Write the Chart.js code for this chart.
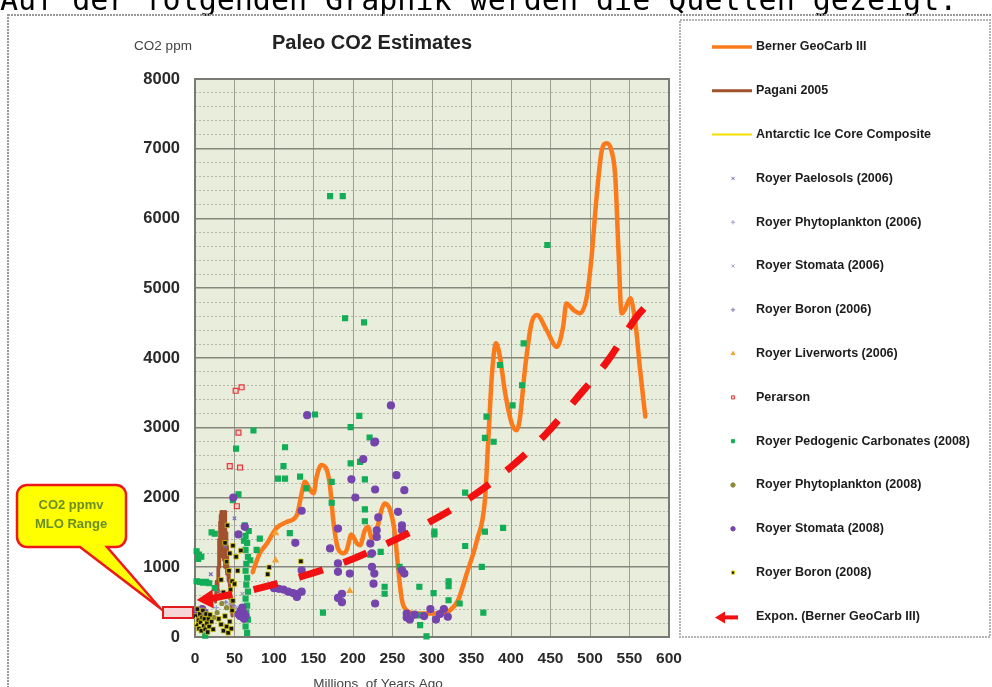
<!DOCTYPE html>
<html>
<head>
<meta charset="utf-8">
<script src="https://cdn.jsdelivr.net/npm/chart.js@4.4.1/dist/chart.umd.min.js"></script>
<style>
  html, body { margin: 0; padding: 0; background: #fff; overflow: hidden; }
</style>
</head>
<body>
<canvas id="paleoChart" width="992" height="687"></canvas>
<script>
// x = millions of years ago, y = CO2 ppm
const xTicks = [0, 50, 100, 150, 200, 250, 300, 350, 400, 450, 500, 550, 600];
const yTicks = [0, 1000, 2000, 3000, 4000, 5000, 6000, 7000, 8000];

const bernerGeoCarb = [[73,930],[82,1200],[91,1340],[103,1560],[116,1650],[129,1750],[135,2060],[139,2225],[146,2105],[150,2060],[154,2300],[160,2465],[167,2390],[171,2150],[175,1675],[181,1270],[188,1200],[192,1245],[198,1470],[205,1340],[209,1315],[215,1530],[219,1580],[224,1410],[230,1530],[236,1820],[240,1915],[247,1820],[253,1485],[257,1005],[262,527],[268,383],[281,336],[293,336],[310,336],[323,383],[333,527],[344,910],[357,1390],[367,1960],[371,2775],[376,3780],[381,4210],[386,4020],[392,3540],[401,3060],[407,2965],[411,3110],[418,3875],[426,4500],[433,4615],[445,4400],[458,4160],[466,4450],[470,4780],[479,4690],[487,4640],[496,4880],[502,5450],[508,6265],[515,6980],[521,7080],[527,6980],[532,6600],[536,5550],[540,4640],[544,4690],[551,4855],[555,4690],[559,4350],[563,3875],[570,3160]];

const pagani2005 = [[26,500],[27,800],[28,650],[29,1000],[29.5,800],[30,1400],[30.5,1000],[31,1650],[31.5,1100],[32,1750],[32.5,1200],[33,1800],[33.5,1150],[34,1750],[34.5,1300],[35,1800],[35.5,1200],[36,1700],[36.5,1100],[37,1650],[37.5,1000],[38,1800],[38.5,1200],[39,1600],[39.5,1000],[40,1500],[40.5,900],[41,1300],[42,800],[43,950],[44,600],[45,700],[46,400],[47,300]];

const antarcticIceCore = [[0,280],[0.2,190],[0.4,280],[0.6,200],[0.8,260]];

const paleosols2006 = [[20,900],[38,1300],[50,1700]];
const phytoplankton2006 = [[27,420],[33,560],[44,470]];
const stomata2006 = [[12,320],[52,420],[60,620]];
const boron2006 = [[31,650],[39,500],[49,450]];
const liverworts2006 = [[102,1490],[102,1100],[196,660]];

const perarson = [[51.5,3530],[59,3580],[55,2930],[44,2450],[57,2430],[53,1875]];

const pedogenic2008 = [[171,6320],[187,6320],[190,4570],[214,4510],[446,5620],[416,4210],[414,3610],[402,3320],[386,3900],[369,3160],[367,2855],[378,2800],[342,2070],[367,1510],[390,1565],[342,1305],[363,1005],[365,350],[303,1510],[303,1470],[321,800],[321,730],[302,630],[321,527],[335,480],[284,720],[284,310],[285,170],[293,10],[259,1005],[240,720],[240,620],[235,1220],[222,1180],[215,1830],[215,1660],[215,2260],[197,2490],[209,2510],[208,3170],[197,3010],[221,2860],[152,3190],[173,2225],[173,1925],[162,350],[74,2960],[114,2720],[112,2450],[105,2270],[114,2270],[133,2300],[141,2130],[120,1490],[52,2700],[55,2045],[48,1960],[25,1480],[21,1500],[2,1230],[5,1180],[8,1150],[4,1120],[2,800],[6,790],[10,780],[14,790],[18,770],[25,700],[13,20],[82,1410],[78,1250],[64,1450],[66,1350],[64,1250],[67,1150],[65,1050],[64,950],[66,850],[65,750],[67,650],[64,550],[66,450],[65,350],[67,250],[64,150],[66,60],[62,1380],[70,1100],[68,1520],[63,1600]];

const phytoplankton2008 = [[28,350],[34,480],[40,420],[24,280],[45,560]];

const stomata2008 = [[142,3180],[248,3320],[227,2790],[181,1555],[181,1055],[181,935],[186,620],[186,500],[181,560],[196,910],[198,2260],[203,2000],[213,2550],[228,2800],[228,2115],[224,1200],[224,1005],[226,765],[228,480],[232,1715],[230,1530],[230,1435],[222,1340],[255,2320],[265,2105],[257,1795],[262,1600],[262,1530],[262,957],[265,910],[227,910],[268,336],[268,280],[290,300],[298,400],[305,250],[310,330],[315,400],[320,290],[278,320],[272,250],[135,1810],[127,1350],[135,957],[100,700],[106,690],[112,680],[118,650],[124,630],[130,620],[129,575],[135,650],[171,1270],[48.5,2000],[63,1580],[55,1470],[55,330],[58,380],[61,350],[64,300],[57,300],[60,420],[62,260],[3,380],[6,330],[9,400],[12,350],[15,300],[5,280],[10,300]];

const boron2008 = [[1,300],[2,180],[3,400],[4,240],[5,120],[6,330],[7,210],[8,90],[9,280],[10,380],[11,160],[12,260],[13,110],[14,330],[15,200],[16,70],[17,260],[18,150],[19,320],[21,220],[23,110],[30,260],[33,180],[36,90],[38,300],[40,150],[42,60],[44,220],[46,120],[47,380],[48,520],[45,680],[47,800],[43,950],[40,1080],[44,1200],[48,1310],[52,1150],[54,950],[50,760],[36,640],[33,820],[38,1350],[41,1600],[58,1240],[92,900],[94,1000],[134,1085]];

const exponTrend = [[16,540],[74,680],[133,860],[190,1075],[244,1345],[297,1650],[350,2010],[400,2440],[445,2920],[483,3420],[523,3970],[559,4591],[572,4760]];

const toXY = arr => arr.map(p => ({ x: p[0], y: p[1] }));

const lineSet = (label, data, color, width, order) => ({
    label, data: toXY(data), showLine: true, borderColor: color, backgroundColor: color,
    borderWidth: width, pointRadius: 0, borderJoinStyle: 'round', borderCapStyle: 'round',
    legendMarker: 'line', order
});

const pointSet = (label, data, style, fill, stroke, radius, order) => ({
    label, data: toXY(data), showLine: false, pointStyle: style,
    backgroundColor: fill, borderColor: stroke, pointRadius: radius, pointBorderWidth: 1.2,
    legendMarker: 'point', clip: 8, order
});

const datasets = [
    Object.assign(lineSet('Berner GeoCarb III', bernerGeoCarb, '#fb7a1c', 4.5, 20), { cubicInterpolationMode: 'monotone' }),
    lineSet('Pagani 2005', pagani2005, '#a0522d', 3, 12),
    lineSet('Antarctic Ice Core Composite', antarcticIceCore, '#f2e000', 2, 3),
    pointSet('Royer Paelosols (2006)', paleosols2006, 'crossRot', '#6c6cc0', '#6c6cc0', 2.5, 9),
    pointSet('Royer Phytoplankton (2006)', phytoplankton2006, 'cross', '#9aa0c8', '#9aa0c8', 2.5, 9),
    pointSet('Royer Stomata (2006)', stomata2006, 'crossRot', '#a4a4c4', '#a4a4c4', 2.5, 9),
    pointSet('Royer Boron (2006)', boron2006, 'cross', '#7a7ab8', '#7a7ab8', 2.5, 9),
    pointSet('Royer Liverworts (2006)', liverworts2006, 'triangle', '#f5a030', '#f5a030', 3, 5),
    pointSet('Perarson', perarson, 'rect', 'rgba(248,200,200,0.7)', '#e23a3a', 3.5, 5),
    pointSet('Royer Pedogenic Carbonates (2008)', pedogenic2008, 'rect', '#12ad57', '#12ad57', 3.5, 8),
    pointSet('Royer Phytoplankton (2008)', phytoplankton2008, 'circle', '#8a8a3a', '#8a8a3a', 2, 6),
    pointSet('Royer Stomata (2008)', stomata2008, 'circle', '#7544ad', '#7544ad', 3.5, 7),
    Object.assign(pointSet('Royer Boron (2008)', boron2008, 'rect', '#141414', '#d8cc10', 3.2, 4), { pointBorderWidth: 0.8 }),
    {
        label: 'Expon. (Berner GeoCarb III)', data: toXY(exponTrend), showLine: true,
        borderColor: '#f21010', backgroundColor: '#f21010', borderWidth: 7, borderDash: [25, 22],
        borderCapStyle: 'butt', cubicInterpolationMode: 'monotone',
        pointStyle: 'triangle', pointRadius: c => c.dataIndex === 0 ? 11 : 0,
        pointRotation: -94, pointBorderWidth: 0, pointBackgroundColor: '#f21010',
        legendMarker: 'arrow', clip: false, order: 0
    }
];

const FONT = '"Liberation Sans", Arial, sans-serif';

// page text, frames, callout and the boxed legend
const framePlugin = {
    id: 'frame',
    beforeDraw(chart) {
        const { ctx, chartArea: a } = chart;
        ctx.save();
        ctx.fillStyle = '#fff';
        ctx.fillRect(0, 0, chart.width, chart.height);
        ctx.fillStyle = '#000';
        ctx.font = '30px "DejaVu Sans Mono", monospace';
        ctx.textBaseline = 'alphabetic';
        ctx.fillText('Auf der folgenden Graphik werden die Quellen gezeigt:', 0, 10);
        // outer dotted frame
        ctx.strokeStyle = '#9a9a9a';
        ctx.lineWidth = 2;
        ctx.setLineDash([2, 1]);
        ctx.strokeRect(8, 15, 1000, 700);
        // legend frame
        ctx.strokeStyle = '#b4b4b4';
        ctx.strokeRect(680, 20, 310, 617);
        ctx.setLineDash([]);
        // plot background
        ctx.fillStyle = '#e9eddb';
        ctx.fillRect(a.left, a.top, a.right - a.left, a.bottom - a.top);
        ctx.restore();
    },
    beforeDatasetsDraw(chart) {
        const { ctx, chartArea: a } = chart;
        ctx.save();
        ctx.strokeStyle = '#7a7a74';
        ctx.lineWidth = 2;
        ctx.strokeRect(a.left, a.top, a.right - a.left, a.bottom - a.top);
        ctx.restore();
    },
    afterDraw(chart) {
        const { ctx } = chart;
        ctx.save();
        ctx.textBaseline = 'middle';
        ctx.fillStyle = '#222';
        ctx.font = 'bold 20px ' + FONT;
        ctx.textAlign = 'center';
        ctx.fillText('Paleo CO2 Estimates', 372, 43);
        ctx.font = '13.5px ' + FONT;
        ctx.fillStyle = '#444';
        ctx.fillText('CO2 ppm', 163, 46);
        ctx.fillText('Millions  of Years Ago', 378, 684);

        // callout
        ctx.beginPath();
        ctx.moveTo(27, 485);
        ctx.lineTo(116, 485);
        ctx.arcTo(126, 485, 126, 495, 10);
        ctx.lineTo(126, 537);
        ctx.arcTo(126, 547, 116, 547, 10);
        ctx.lineTo(107, 547);
        ctx.lineTo(160, 608);
        ctx.lineTo(80, 547);
        ctx.lineTo(27, 547);
        ctx.arcTo(17, 547, 17, 537, 10);
        ctx.lineTo(17, 495);
        ctx.arcTo(17, 485, 27, 485, 10);
        ctx.closePath();
        ctx.fillStyle = '#ffff00';
        ctx.fill();
        ctx.strokeStyle = '#ee1a1a';
        ctx.lineWidth = 2.5;
        ctx.stroke();
        ctx.fillStyle = '#6b8e23';
        ctx.font = 'bold 13px ' + FONT;
        ctx.fillText('CO2 ppmv', 71, 505);
        ctx.fillText('MLO Range', 71, 524);
        // MLO range box
        ctx.fillStyle = '#f6d6d6';
        ctx.fillRect(163, 607, 30, 11);
        ctx.strokeStyle = '#e21c1c';
        ctx.lineWidth = 2;
        ctx.strokeRect(163, 607, 30, 11);

        // legend
        ctx.textAlign = 'left';
        chart.data.datasets.forEach((ds, i) => {
            const y = 47 + i * 43.8;
            if (ds.legendMarker === 'line') {
                ctx.strokeStyle = ds.borderColor;
                ctx.lineWidth = Math.min(ds.borderWidth, 3.5);
                ctx.beginPath();
                ctx.moveTo(712, y);
                ctx.lineTo(752, y);
                ctx.stroke();
            } else if (ds.legendMarker === 'arrow') {
                ctx.fillStyle = ds.borderColor;
                ctx.beginPath();
                ctx.moveTo(715, y + 1);
                ctx.lineTo(725, y - 5);
                ctx.lineTo(725, y + 7);
                ctx.closePath();
                ctx.fill();
                ctx.fillRect(724, y - 1, 14, 4);
            } else {
                ctx.fillStyle = ds.backgroundColor;
                ctx.strokeStyle = ds.borderColor;
                ctx.lineWidth = 1;
                Chart.helpers.drawPoint(ctx, { pointStyle: ds.pointStyle, radius: 2.2, rotation: 0, borderWidth: 1 }, 733, y);
            }
            ctx.fillStyle = '#1c1c1c';
            ctx.font = 'bold 12.5px ' + FONT;
            ctx.fillText(ds.label, 756, y);
        });
        ctx.restore();
    }
};

new Chart(document.getElementById('paleoChart'), {
    type: 'scatter',
    data: { datasets },
    plugins: [framePlugin],
    options: {
        responsive: false,
        animation: false,
        devicePixelRatio: 1,
        layout: { padding: { left: 0, right: 323, top: 79, bottom: 0 } },
        plugins: { legend: { display: false }, title: { display: false }, tooltip: { enabled: false } },
        scales: {
            x: {
                type: 'linear', min: 0, max: 600,
                afterBuildTicks: s => { s.ticks = xTicks.map(v => ({ value: v })); },
                afterFit: s => { s.height = 50; },
                ticks: { padding: 12, color: '#2a2a2a', font: { family: FONT, size: 15.5, weight: 'bold' }, maxRotation: 0, autoSkip: false, callback: v => String(v) },
                grid: { color: '#9c9e92', lineWidth: 1, drawTicks: false },
                border: { color: '#7a7a74', width: 2 }
            },
            y: {
                type: 'linear', min: 0, max: 8000, position: 'left',
                afterBuildTicks: s => { s.ticks = yTicks.map(v => ({ value: v })); },
                afterFit: s => { s.width = 195; },
                ticks: { padding: 15, color: '#2a2a2a', font: { family: FONT, size: 16.5, weight: 'bold' }, callback: v => String(v) },
                grid: { color: '#85877d', lineWidth: 1.6, drawTicks: false },
                border: { color: '#7a7a74', width: 2 }
            },
            y2: {
                type: 'linear', min: 0, max: 8000, position: 'left',
                afterFit: s => { s.width = 0; },
                ticks: { display: false, stepSize: 200 },
                grid: { color: c => c.tick && c.tick.value % 1000 === 0 ? 'rgba(0,0,0,0)' : 'rgba(135,140,125,0.55)', lineWidth: 1, drawTicks: false },
                border: { display: false, dash: [2, 2] }
            }
        }
    }
});
</script>
</body>
</html>
